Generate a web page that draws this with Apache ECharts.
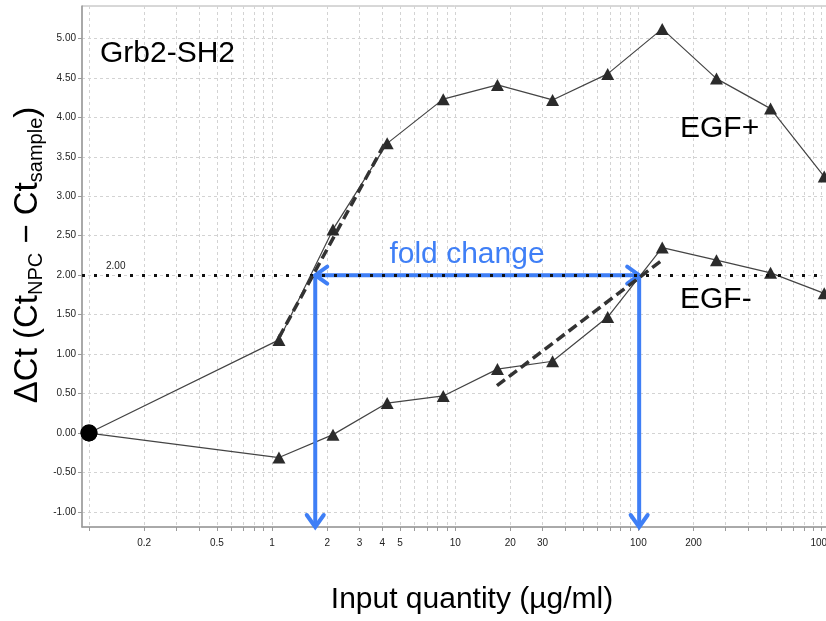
<!DOCTYPE html>
<html>
<head>
<meta charset="utf-8">
<script src="https://cdn.jsdelivr.net/npm/echarts@6/dist/echarts.min.js"></script>
<style>
  html, body { margin: 0; padding: 0; background: #fff; }
  #chart { width: 826px; height: 621px; }
</style>
</head>
<body>
<div id="chart"></div>
<script>
// input quantity (ug/ml)
const inputQty = [0.1, 1.09, 2.15, 4.25, 8.6, 17, 34, 68, 135, 267, 527, 1035]
// delta Ct per sample
const egfPlus = [0, 1.18, 2.58, 3.67, 4.23, 4.41, 4.22, 4.55, 5.12, 4.49, 4.11, 3.25]
const egfMinus = [0, -0.31, -0.02, 0.38, 0.47, 0.81, 0.91, 1.47, 2.35, 2.19, 2.03, 1.77]
// dashed fit segments
const fitPlusX = [1.09, 4.15]
const fitPlusY = [1.21, 3.68]
const fitMinusX = [16.9, 133]
const fitMinusY = [0.6, 2.18]
// threshold and fold change
const thresholdCt = 2
const foldLow = 1.72
const foldHigh = 101
// axes
const xRange = [0.0916, 1200]
const yRange = [-1.19, 5.41]
const xGridValues = [0.1, 0.2, 0.3, 0.4, 0.5, 0.6, 0.7, 0.8, 0.9,
  1, 2, 3, 4, 5, 6, 7, 8, 9,
  10, 20, 30, 40, 50, 60, 70, 80, 90,
  100, 200, 300, 400, 500, 600, 700, 800, 900, 1000]
const xLabelValues = [0.2, 0.5, 1, 2, 3, 4, 5, 10, 20, 30, 100, 200, 1000]
const yTickValues = [-1, -0.5, 0, 0.5, 1, 1.5, 2, 2.5, 3, 3.5, 4, 4.5, 5]

const font = 'Liberation Sans, Arial, Helvetica, sans-serif'
const blue = '#3f7ff6'

function pairs(xs, ys) {
  return xs.map((x, i) => [x, ys[i]])
}

function curveData(ys) {
  const pts = pairs(inputQty, ys)
  return pts.map((p, i) => {
    if (i === 0) {
      return { value: p, symbol: 'circle', symbolSize: 17, itemStyle: { color: '#000' } }
    }
    return p
  })
}

// arrows: x1, y1, x2, y2, head at start, head at end
const arrowData = [
  [foldLow, thresholdCt, foldHigh, thresholdCt, 1, 1],
  [foldLow, thresholdCt, foldLow, yRange[0], 0, 1],
  [foldHigh, thresholdCt, foldHigh, yRange[0], 0, 1]
]

function chevron(tip, from) {
  const dx = tip[0] - from[0]
  const dy = tip[1] - from[1]
  const len = Math.sqrt(dx * dx + dy * dy) || 1
  const ux = dx / len
  const uy = dy / len
  const back = 12
  const side = 8.5
  return [
    [tip[0] - ux * back - uy * side, tip[1] - uy * back + ux * side],
    [tip[0], tip[1]],
    [tip[0] - ux * back + uy * side, tip[1] - uy * back - ux * side]
  ]
}

function renderArrow(params, api) {
  const p1 = api.coord([api.value(0), api.value(1)])
  const p2 = api.coord([api.value(2), api.value(3)])
  const style = { stroke: blue, lineWidth: 4, fill: null, lineJoin: 'miter', lineCap: 'round' }
  const children = [{
    type: 'line',
    shape: { x1: p1[0], y1: p1[1], x2: p2[0], y2: p2[1] },
    style: { stroke: blue, lineWidth: 4 }
  }]
  if (api.value(4)) {
    children.push({ type: 'polyline', shape: { points: chevron(p1, p2) }, style: style })
  }
  if (api.value(5)) {
    children.push({ type: 'polyline', shape: { points: chevron(p2, p1) }, style: style })
  }
  return { type: 'group', children: children }
}

const chart = echarts.init(document.getElementById('chart'), null, { renderer: 'canvas' })

const curveStyle = {
  type: 'line',
  symbol: 'triangle',
  symbolSize: [13, 12],
  itemStyle: { color: '#2b2b2b' },
  lineStyle: { color: '#444', width: 1.2 },
  silent: true,
  z: 3
}

const fitStyle = {
  type: 'line',
  symbol: 'none',
  lineStyle: { color: '#333', width: 3.5, type: [10, 5] },
  silent: true,
  z: 5
}

function label(text, x, y, color, align) {
  return {
    type: 'text',
    x: x,
    y: y,
    z: 100,
    style: {
      text: text,
      fontSize: 30,
      fontFamily: font,
      fill: color,
      align: align,
      verticalAlign: 'middle'
    }
  }
}

const option = {
  backgroundColor: '#fff',
  animation: false,
  textStyle: { fontFamily: font },
  grid: {
    left: 82,
    right: -10,
    top: 6,
    bottom: 94,
    show: true,
    borderColor: '#b0b0b0',
    borderWidth: 1,
    outerBoundsMode: 'none'
  },
  xAxis: {
    type: 'log',
    logBase: 10,
    min: xRange[0],
    max: xRange[1],
    axisLine: { onZero: false, lineStyle: { color: '#9a9a9a', width: 1.5 } },
    axisTick: { customValues: xGridValues, length: 4, lineStyle: { color: '#9a9a9a' } },
    axisLabel: {
      customValues: xLabelValues,
      formatter: v => String(+Number(v).toPrecision(3)),
      fontSize: 10,
      color: '#222',
      margin: 11,
      fontFamily: font
    },
    splitLine: { show: true, lineStyle: { color: '#d3d3d3', type: [3, 3], width: 1 } }
  },
  yAxis: {
    type: 'value',
    min: yRange[0],
    max: yRange[1],
    axisLine: { show: true, onZero: false, lineStyle: { color: '#9a9a9a', width: 1.5 } },
    axisTick: { show: true, customValues: yTickValues, length: 4, lineStyle: { color: '#9a9a9a' } },
    axisLabel: {
      customValues: yTickValues,
      formatter: v => Number(v).toFixed(2),
      fontSize: 10,
      color: '#222',
      margin: 6,
      fontFamily: font
    },
    splitLine: { show: true, lineStyle: { color: '#d3d3d3', type: [3, 3], width: 1 } }
  },
  series: [
    Object.assign({}, curveStyle, { name: 'EGF+', data: curveData(egfPlus) }),
    Object.assign({}, curveStyle, { name: 'EGF-', data: curveData(egfMinus) }),
    Object.assign({}, fitStyle, {
      name: 'fit EGF+',
      data: pairs(fitPlusX, fitPlusY),
      markLine: {
        silent: true,
        symbol: 'none',
        lineStyle: { color: '#111', width: 3, type: [3, 9] },
        label: {
          show: true,
          position: 'insideStartTop',
          formatter: '2.00',
          fontSize: 10,
          color: '#222',
          distance: [24, 4],
          fontFamily: font
        },
        data: [{ yAxis: thresholdCt }]
      }
    }),
    Object.assign({}, fitStyle, { name: 'fit EGF-', data: pairs(fitMinusX, fitMinusY) }),
    {
      name: 'fold change',
      type: 'custom',
      clip: false,
      silent: true,
      z: 4,
      renderItem: renderArrow,
      data: arrowData
    }
  ],
  graphic: [
    {
      type: 'text',
      x: 28,
      y: 255,
      z: 100,
      rotation: Math.PI / 2,
      style: {
        text: '{m|\u0394Ct (Ct}{s|NPC}{m| \u2212 Ct}{s|sample}{m|)}',
        align: 'center',
        verticalAlign: 'middle',
        fill: '#000',
        rich: {
          m: { fontSize: 33, lineHeight: 40, fontFamily: font, fill: '#000' },
          s: { fontSize: 20, lineHeight: 20, padding: [18, 0, 2, 0], fontFamily: font, fill: '#000' }
        }
      }
    },
    label('Input quantity (\u00b5g/ml)', 472, 600, '#000', 'center'),
    label('Grb2-SH2', 100, 54, '#000', 'left'),
    label('EGF+', 680, 129, '#000', 'left'),
    label('EGF-', 680, 300, '#000', 'left'),
    label('fold change', 467, 255, blue, 'center')
  ]
}

chart.setOption(option)
</script>
</body>
</html>
